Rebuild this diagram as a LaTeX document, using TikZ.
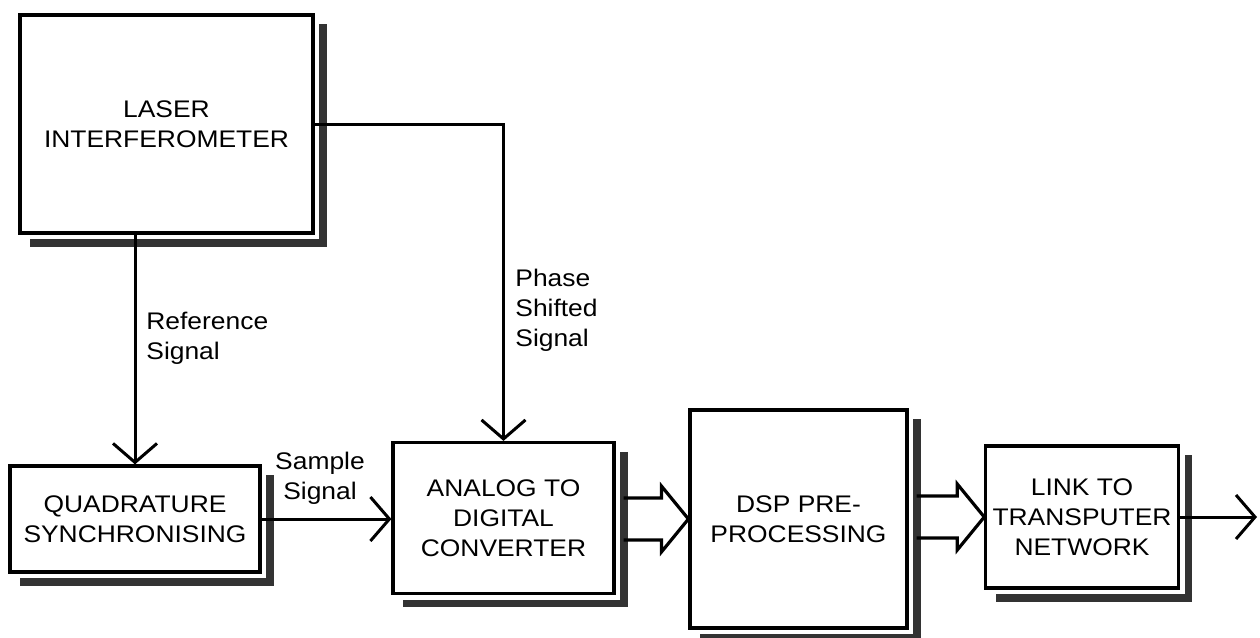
\documentclass[tikz,border=0pt]{standalone}
\usepackage{fontspec}
\setmainfont{Liberation Sans}[FakeStretch=1.1]
\usetikzlibrary{arrows.meta,calc}

% dark band right of and below a block
\newcommand{\boxshadow}[1]{%
  \draw[shadowband] ([xshift=4.2pt,yshift=-5.5pt]#1.north east)
    |- ([xshift=6pt,yshift=-4.2pt]#1.south west);}

% wide two-line arrow between two blocks
\newcommand{\busarrow}[2]{%
  \draw[bus] ($(#1.east |- #2.west)+(8,-21)$) -- ($(#2.west)+(-27,-21)$)
    -- ++(0,-12) -- (#2.west) -- ($(#2.west)+(-27,33)$) -- ++(0,-12)
    -- ($(#1.east |- #2.west)+(8,21)$);}

\begin{document}
\begin{tikzpicture}[x=0.5pt, y=-0.5pt,
    font=\fontsize{12}{15}\selectfont,
    blk/.style={draw, line width=1.6pt, fill=white, align=center},
    shadowband/.style={draw=black!80, line width=3.6pt},
    sig/.style={line width=1.5pt, -{Straight Barb[length=9.5pt, width=22pt]}},
    bus/.style={line width=1.6pt},
    lbl/.style={align=left, anchor=west, inner sep=0pt}]
    \useasboundingbox (0,0) rectangle (1260,638);

    % blocks
    \node[blk, minimum width=146.5pt, minimum height=109pt] (laser) at (166.5,124) {LASER\\INTERFEROMETER};
    \node[blk, minimum width=125pt, minimum height=53pt] (quad) at (135,519) {QUADRATURE\\SYNCHRONISING};
    \node[blk, minimum width=110.5pt, minimum height=75.5pt] (adc) at (503.5,518) {ANALOG TO\\DIGITAL\\CONVERTER};
    \node[blk, minimum width=108.5pt, minimum height=109pt] (dsp) at (798.5,519) {DSP PRE-\\PROCESSING};
    \node[blk, minimum width=95pt, minimum height=71pt] (link) at (1082,517) {LINK TO\\TRANSPUTER\\NETWORK};

    \foreach \b in {laser,quad,adc,dsp,link}
        \boxshadow{\b};

    % labels
    \node[lbl] (reflbl) at (146,338) {Reference\\Signal};
    \node[lbl] (phaselbl) at (515,310) {Phase\\Shifted\\Signal};
    \node[lbl, align=center, anchor=center] (smplbl) at (320,478) {Sample\\Signal};

    % connectors
    \draw[sig] (laser.south -| quad.north) -- (quad.north);
    \draw[sig] (laser.east) -| (adc.north);
    \draw[sig] (quad.east) -- (quad.east -| adc.west);
    \busarrow{adc}{dsp}
    \busarrow{dsp}{link}
    \coordinate (out) at (1257,517);
    \draw[sig] (link.east) -- (out);
\end{tikzpicture}
\end{document}
